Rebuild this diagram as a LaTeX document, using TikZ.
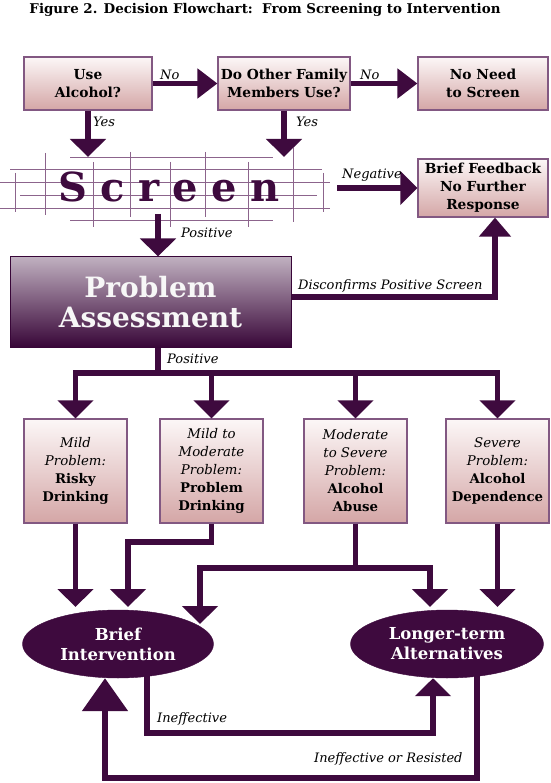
\documentclass[tikz,border=0pt]{standalone}
\usepackage{fontspec}
\setmainfont{DejaVu Serif}
\usetikzlibrary{arrows.meta,shapes.geometric,calc}
\definecolor{dp}{RGB}{62,10,62}
\definecolor{bord}{RGB}{130,88,130}
\definecolor{gtop}{RGB}{252,247,247}
\definecolor{gbot}{RGB}{212,166,166}
\definecolor{ptop}{RGB}{192,176,192}
\definecolor{pbot}{RGB}{56,6,56}
\definecolor{gridc}{RGB}{140,100,140}
\begin{document}
\begin{tikzpicture}[x=1pt,y=-1pt,
  box/.style={draw=bord, line width=1.2pt, top color=gtop, bottom color=gbot,
    inner sep=0pt, align=center, font=\fontsize{13.8}{18}\selectfont\bfseries},
  topbox/.style={box, minimum width=128pt, minimum height=53pt},
  lowbox/.style={box, minimum width=103pt, minimum height=104pt, font=\fontsize{13.3}{18}\selectfont},
  pabox/.style={draw=pbot, line width=1pt, top color=ptop, bottom color=pbot, text=white!94!gray,
    inner sep=0pt, align=center, minimum width=281pt, minimum height=90pt,
    font=\fontsize{28}{29.5}\selectfont\bfseries},
  ell/.style={ellipse, fill=dp, draw=dp, text=white, inner sep=0pt, align=center,
    minimum width=191pt, minimum height=68pt, font=\fontsize{16.5}{20}\selectfont\bfseries},
  conn/.style={draw=dp, line width=5.5pt, line join=miter, -{Triangle[length=18pt,width=35pt]}},
  smallconn/.style={conn, -{Triangle[length=20pt,width=29pt]}},
  bigconn/.style={conn, -{Triangle[length=33pt,width=45pt]}},
  plain/.style={draw=dp, line width=5.5pt, line join=miter},
  lab/.style={font=\fontsize{13}{15}\selectfont\itshape, inner sep=0pt, anchor=base west},
  gridline/.style={draw=gridc, line width=0.9pt}
]
\fill[white] (0,0) rectangle (550,783);
\useasboundingbox (0,0) rectangle (550,783);

% title
\node[font=\fontsize{13.4}{15}\selectfont\bfseries, inner sep=0pt] (title) at (265,10)
  {Figure 2. Decision Flowchart:\ \ From Screening to Intervention};

% top row
\node[topbox] (ua) at (88,83.5) {Use\\Alcohol?};
\node[topbox, minimum width=132pt] (dof) at (284,83.5) {Do Other Family\\Members Use?};
\node[topbox, minimum width=130pt] (nn) at (483,83.5) {No Need\\to Screen};
\node[topbox, minimum width=130pt, minimum height=58pt] (bf) at (483,188) {Brief Feedback\\No Further\\Response};

% screen grid
\draw[gridline] (70,157) -- (273,157);
\draw[gridline] (10,169) -- (322,169);
\draw[gridline] (0,182) -- (330,182);
\draw[gridline] (20,195) -- (317,195);
\draw[gridline] (0,208) -- (330,208);
\draw[gridline] (70,220) -- (273,220);
\draw[gridline] (15,173) -- (15,212);
\draw[gridline] (45,153) -- (45,215);
\draw[gridline] (93,162) -- (93,227);
\draw[gridline] (130,152) -- (130,217);
\draw[gridline] (170,162) -- (170,227);
\draw[gridline] (205,152) -- (205,217);
\draw[gridline] (248,162) -- (248,227);
\draw[gridline] (293,148) -- (293,222);
\draw[gridline] (323,173) -- (323,212);
\node[font=\fontsize{40}{42}\selectfont\bfseries, text=dp, inner sep=0pt, anchor=base] (scr) at (169,202)
  {S\hspace{13.5pt}c\hspace{13.5pt}r\hspace{13.5pt}e\hspace{13.5pt}e\hspace{13.5pt}n};

% problem assessment
\node[pabox] (pa) at (150.5,302) {Problem\\Assessment};

% four boxes
\node[lowbox] (b1) at (75.5,471) {\textit{Mild}\\\textit{Problem:}\\\textbf{Risky}\\\textbf{Drinking}};
\node[lowbox] (b2) at (211.5,471) {\textit{Mild to}\\\textit{Moderate}\\\textit{Problem:}\\\textbf{Problem}\\\textbf{Drinking}};
\node[lowbox] (b3) at (355.5,471) {\textit{Moderate}\\\textit{to Severe}\\\textit{Problem:}\\\textbf{Alcohol}\\\textbf{Abuse}};
\node[lowbox] (b4) at (497.5,471) {\textit{Severe}\\\textit{Problem:}\\\textbf{Alcohol}\\\textbf{Dependence}};

% ellipses
\node[ell] (bi) at (118,644) {Brief\\Intervention};
\node[ell, minimum width=193pt] (la) at (447,644) {Longer-term\\Alternatives};

% helper coordinates
\coordinate (gtop) at (0,157);
\coordinate (sp) at (158,214);
\coordinate (neg) at (337,188);
\coordinate (dc) at (495,0);
\coordinate (pp) at (158,373);
\coordinate (ae) at (0,607);
\coordinate (c2) at (128,542);
\coordinate (c3l) at (200,568);
\coordinate (c3r) at (430,568);
\coordinate (tipbi) at (200,624);
\coordinate (ineff) at (433,733);
\coordinate (ior) at (105,778);

% connectors top
\draw[smallconn] (ua) -- (dof);
\draw[smallconn] (dof) -- (nn);
\draw[conn] (ua.south) -- (ua.south |- gtop);
\draw[conn] (dof.south) -- (dof.south |- gtop);
\draw[conn, -{Triangle[length=17pt,width=33pt]}] (neg) -- (bf.west);
\draw[conn] (sp) -- (sp |- pa.north);
\draw[conn, -{Triangle[length=19pt,width=31pt]}] ([yshift=5pt]pa.east) -| (dc |- bf.south);

% branch
\draw[plain] (pa.south -| pp) -- (pp);
\draw[plain, line cap=rect] (b1.north |- pp) -- (b4.north |- pp);
\draw[conn] (b1.north |- pp) -- (b1.north);
\draw[conn] (b2.north |- pp) -- (b2.north);
\draw[conn] (b3.north |- pp) -- (b3.north);
\draw[conn] (b4.north |- pp) -- (b4.north);

% to ellipses
\draw[conn] (b1.south) -- (b1.south |- ae);
\draw[conn] (b2.south) |- (c2) -- (c2 |- ae);
\draw[conn] (b3.south) |- (c3l) -- (tipbi);
\draw[conn] (b3.south |- c3r) -- (c3r) -- (c3r |- ae);
\draw[conn] (b4.south) -- (b4.south |- ae);

% feedback loops
\draw[conn] ([xshift=29pt,yshift=-22pt]bi.center) |- (ineff) -- ([xshift=-14pt]la.south);
\draw[bigconn] ([xshift=30pt,yshift=-22pt]la.center) |- (ior) -- ([xshift=-13pt]bi.south);

% labels
\node[lab] (lno1) at (160,80) {No};
\node[lab] (lno2) at (360,80) {No};
\node[lab] (lyes1) at (93,127) {Yes};
\node[lab] (lyes2) at (296,127) {Yes};
\node[lab] (lneg) at (342,179) {Negative};
\node[lab] (lpos1) at (181,238) {Positive};
\node[lab] (ldis) at (298,289) {Disconfirms Positive Screen};
\node[lab] (lpos2) at (167,363) {Positive};
\node[lab] (lin) at (157,722) {Ineffective};
\node[lab] (lior) at (314,762) {Ineffective or Resisted};
\end{tikzpicture}
\end{document}
